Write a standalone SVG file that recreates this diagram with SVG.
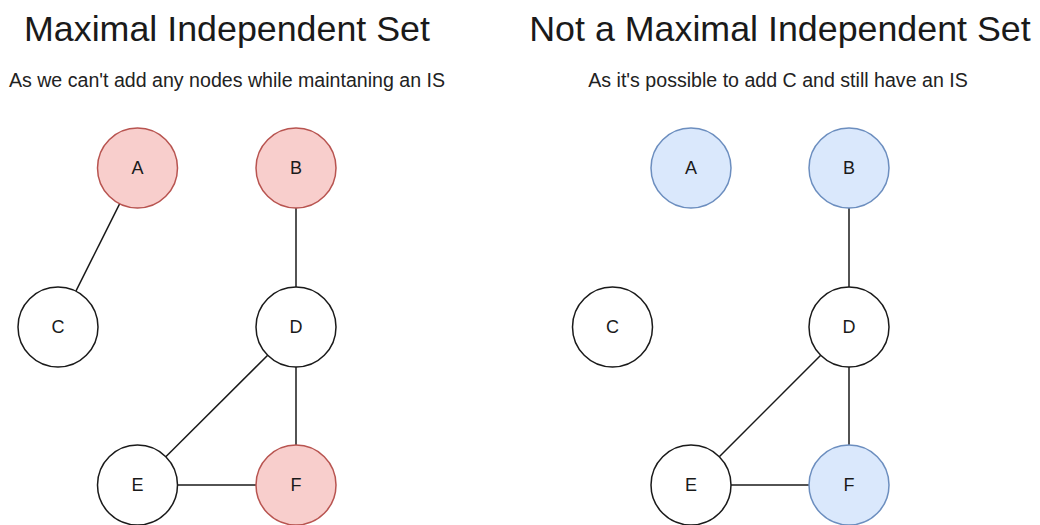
<svg xmlns="http://www.w3.org/2000/svg" width="1040" height="525" viewBox="0 0 1040 525">
<style>
.title{font-family:"Liberation Sans",Arial,sans-serif;font-size:35.8px;fill:#1a1a1a;text-anchor:middle}
.sub{font-family:"Liberation Sans",Arial,sans-serif;font-size:19.6px;fill:#222222;text-anchor:middle}
.lbl{font-family:"Liberation Sans",Arial,sans-serif;font-size:18px;fill:#1a1a1a;text-anchor:middle;dominant-baseline:central}
.n{fill:#ffffff;stroke:#1a1a1a;stroke-width:1.5}
.red{fill:#f8cecc;stroke:#b85450;stroke-width:1.5}
.blue{fill:#dae8fc;stroke:#6c8ebf;stroke-width:1.5}
.e{stroke:#1a1a1a;stroke-width:1.5;fill:none}
</style>
<rect width="1040" height="525" fill="#ffffff"/>
<text class="title" x="227" y="41">Maximal Independent Set</text>
<text class="sub" x="227" y="87">As we can't add any nodes while maintaning an IS</text>
<text class="title" x="780" y="41">Not a Maximal Independent Set</text>
<text class="sub" x="778" y="87">As it's possible to add C and still have an IS</text>
<g id="connectors">
<line class="e" x1="119.6" y1="203.8" x2="75.9" y2="291.2"/>
<line class="e" x1="296" y1="208" x2="296" y2="287"/>
<line class="e" x1="296" y1="367" x2="296" y2="445"/>
<line class="e" x1="267.7" y1="355.2" x2="165.8" y2="456.8"/>
<line class="e" x1="178" y1="485" x2="256" y2="485"/>
<line class="e" x1="849" y1="208" x2="849" y2="287"/>
<line class="e" x1="849" y1="367" x2="849" y2="445"/>
<line class="e" x1="820.7" y1="355.2" x2="719.3" y2="456.8"/>
<line class="e" x1="731" y1="485" x2="809" y2="485"/>
</g>
<g id="L-A"><circle class="red" cx="137.5" cy="168" r="40"/><text class="lbl" x="137.5" y="168">A</text></g>
<g id="L-B"><circle class="red" cx="296" cy="168" r="40"/><text class="lbl" x="296" y="168">B</text></g>
<g id="L-C"><circle class="n" cx="58" cy="327" r="40"/><text class="lbl" x="58" y="327">C</text></g>
<g id="L-D"><circle class="n" cx="296" cy="327" r="40"/><text class="lbl" x="296" y="327">D</text></g>
<g id="L-E"><circle class="n" cx="137.5" cy="485" r="40"/><text class="lbl" x="137.5" y="485">E</text></g>
<g id="L-F"><circle class="red" cx="296" cy="485" r="40"/><text class="lbl" x="296" y="485">F</text></g>
<g id="R-A"><circle class="blue" cx="691" cy="168" r="40"/><text class="lbl" x="691" y="168">A</text></g>
<g id="R-B"><circle class="blue" cx="849" cy="168" r="40"/><text class="lbl" x="849" y="168">B</text></g>
<g id="R-C"><circle class="n" cx="612.5" cy="327" r="40"/><text class="lbl" x="612.5" y="327">C</text></g>
<g id="R-D"><circle class="n" cx="849" cy="327" r="40"/><text class="lbl" x="849" y="327">D</text></g>
<g id="R-E"><circle class="n" cx="691" cy="485" r="40"/><text class="lbl" x="691" y="485">E</text></g>
<g id="R-F"><circle class="blue" cx="849" cy="485" r="40"/><text class="lbl" x="849" y="485">F</text></g>
</svg>
